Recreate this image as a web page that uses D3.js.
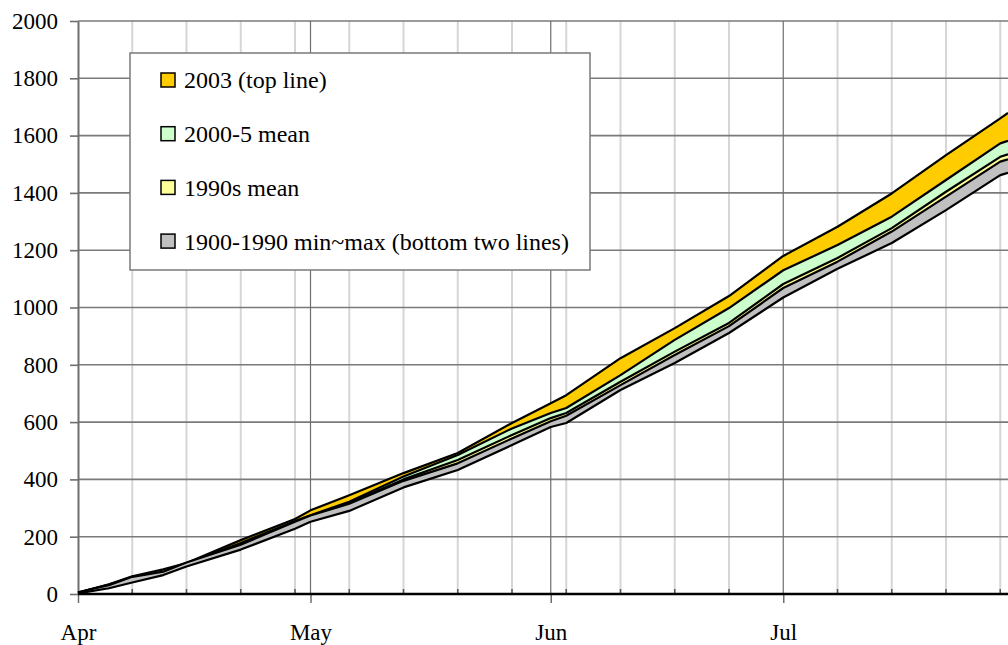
<!DOCTYPE html>
<html>
<head>
<meta charset="utf-8">
<title>Cumulative totals Apr-Jul</title>
<script src="https://d3js.org/d3.v7.min.js"></script>
<style>
	body { margin: 0; background: #fff; }
</style>
</head>
<body>
<svg width="1008" height="645" id="chart"></svg>
<script>
	// days counted from 1 April
	var days     = [0, 4, 7, 11, 14, 21, 28, 30, 35, 42, 49, 56, 61, 63, 70, 77, 84, 91, 98, 105, 112, 119, 120]
	var y2003    = [5, 34, 62, 86, 108, 188, 262, 292, 345, 422, 492, 597, 666, 694, 823, 928, 1040, 1180, 1282, 1398, 1532, 1660, 1679]
	var mean2000 = [4, 30, 55, 74, 106, 178, 255, 275, 322, 410, 485, 578, 632, 649, 764, 887, 998, 1130, 1218, 1317, 1445, 1573, 1582]
	var mean1990 = [4, 33, 58, 76, 104, 175, 250, 272, 318, 400, 468, 555, 614, 632, 741, 846, 946, 1082, 1173, 1277, 1404, 1526, 1535]
	var max1900  = [6, 31, 60, 78, 110, 172, 252, 274, 315, 395, 456, 543, 603, 622, 729, 834, 935, 1068, 1160, 1265, 1387, 1509, 1517]
	var min1900  = [2, 20, 40, 66, 96, 155, 228, 252, 290, 372, 433, 520, 583, 597, 712, 806, 911, 1035, 1135, 1225, 1340, 1462, 1470]

	var monthNames = ["Apr", "May", "Jun", "Jul"]
	var monthDays  = [0, 30, 61, 91]
	var weekDays   = [7, 14, 21, 28, 35, 42, 49, 56, 63, 70, 77, 84, 98, 105, 112, 119]
	var yTicks     = [0, 200, 400, 600, 800, 1000, 1200, 1400, 1600, 1800, 2000]

	var legendNames  = ["2003 (top line)", "2000-5 mean", "1990s mean", "1900-1990 min~max (bottom two lines)"]
	var legendColors = ["#ffcc00", "#ccffcc", "#ffff99", "#c0c0c0"]

	var serif = "'Liberation Serif', 'Times New Roman', serif"

	var svg = d3.select("#chart")
	var plotL = 78, plotR = 1008, plotT = 21, plotB = 594

	var x = d3.scaleLinear().domain([0, 120]).range([plotL, plotR])
	var y = d3.scaleLinear().domain([0, 2000]).range([plotB, plotT])

	// weekly light grid
	svg.append("g").selectAll("line").data(weekDays).enter().append("line")
		.attr("x1", function(d) { return x(d) }).attr("x2", function(d) { return x(d) })
		.attr("y1", plotT).attr("y2", plotB)
		.attr("stroke", "#d6d6d6").attr("stroke-width", 2)

	// horizontal grid
	svg.append("g").selectAll("line").data(yTicks).enter().append("line")
		.attr("x1", plotL).attr("x2", plotR)
		.attr("y1", function(d) { return y(d) }).attr("y2", function(d) { return y(d) })
		.attr("stroke", "#7a7a7a").attr("stroke-width", 1.6)

	// month grid
	svg.append("g").selectAll("line").data(monthDays.slice(1)).enter().append("line")
		.attr("x1", function(d) { return x(d) }).attr("x2", function(d) { return x(d) })
		.attr("y1", plotT).attr("y2", plotB)
		.attr("stroke", "#6e6e6e").attr("stroke-width", 1.2)

	// y axis
	var yAxis = svg.append("g")
		.attr("transform", "translate(" + plotL + ",0)")
		.call(d3.axisLeft(y).tickValues(yTicks).tickFormat(d3.format("d"))
			.tickSize(8).tickPadding(12).tickSizeOuter(0))
	yAxis.attr("font-family", serif).attr("font-size", 23)
	yAxis.select(".domain").attr("stroke", "#6e6e6e").attr("stroke-width", 2)
	yAxis.selectAll(".tick line").attr("stroke", "#6e6e6e").attr("stroke-width", 1.6)
	yAxis.selectAll("text").attr("fill", "#000")

	// bands, each filled from the min line, drawn in order so later ones cover earlier
	var rows = days.map(function(d, i) {
		return { day: d, s: [y2003[i], mean2000[i], mean1990[i], max1900[i]], min: min1900[i] }
	})

	var g = svg.append("g")
	;[0, 1, 2, 3].forEach(function(k) {
		var area = d3.area()
			.x(function(d) { return x(d.day) })
			.y0(function(d) { return y(d.min) })
			.y1(function(d) { return y(d.s[k]) })
		var line = d3.line()
			.x(function(d) { return x(d.day) })
			.y(function(d) { return y(d.s[k]) })
		g.append("path").datum(rows)
			.attr("fill", legendColors[k])
			.attr("d", area)
		g.append("path").datum(rows)
			.attr("fill", "none")
			.attr("stroke", "#000")
			.attr("stroke-width", 2.2)
			.attr("stroke-linejoin", "round")
			.attr("d", line)
	})
	g.append("path").datum(rows)
		.attr("fill", "none")
		.attr("stroke", "#000")
		.attr("stroke-width", 2.2)
		.attr("stroke-linejoin", "round")
		.attr("d", d3.line().x(function(d) { return x(d.day) }).y(function(d) { return y(d.min) }))

	// x axis
	svg.append("g").selectAll("line").data(weekDays).enter().append("line")
		.attr("x1", function(d) { return x(d) }).attr("x2", function(d) { return x(d) })
		.attr("y1", plotB - 5).attr("y2", plotB)
		.attr("stroke", "#555").attr("stroke-width", 1.5)

	var xAxis = svg.append("g")
		.attr("transform", "translate(0," + plotB + ")")
		.call(d3.axisBottom(x).tickValues(monthDays)
			.tickFormat(function(d, i) { return monthNames[i] })
			.tickSize(9).tickPadding(21).tickSizeOuter(0))
	xAxis.attr("font-family", serif).attr("font-size", 23)
	xAxis.select(".domain").remove()
	xAxis.selectAll(".tick line").attr("stroke", "#6e6e6e").attr("stroke-width", 1.5)
	xAxis.selectAll("text").attr("fill", "#000")

	svg.append("line")
		.attr("x1", plotL).attr("x2", plotR)
		.attr("y1", plotB).attr("y2", plotB)
		.attr("stroke", "#000").attr("stroke-width", 2.5)

	// legend
	var legend = svg.append("g").attr("font-family", serif).attr("font-size", 24)
	legend.append("rect")
		.attr("x", 130).attr("y", 53).attr("width", 460).attr("height", 217)
		.attr("fill", "#fff").attr("stroke", "#7a7a7a").attr("stroke-width", 1.5)

	var item = legend.selectAll(".item").data(legendNames).enter().append("g")
		.attr("class", "item")
		.attr("transform", function(d, i) { return "translate(161," + (80 + i * 53.7) + ")" })
	item.append("rect")
		.attr("x", 0).attr("y", -7).attr("width", 14).attr("height", 14)
		.attr("fill", function(d, i) { return legendColors[i] })
		.attr("stroke", "#000").attr("stroke-width", 1.5)
	item.append("text")
		.attr("x", 23).attr("dy", "0.35em")
		.attr("fill", "#000")
		.text(function(d) { return d })
</script>
</body>
</html>
